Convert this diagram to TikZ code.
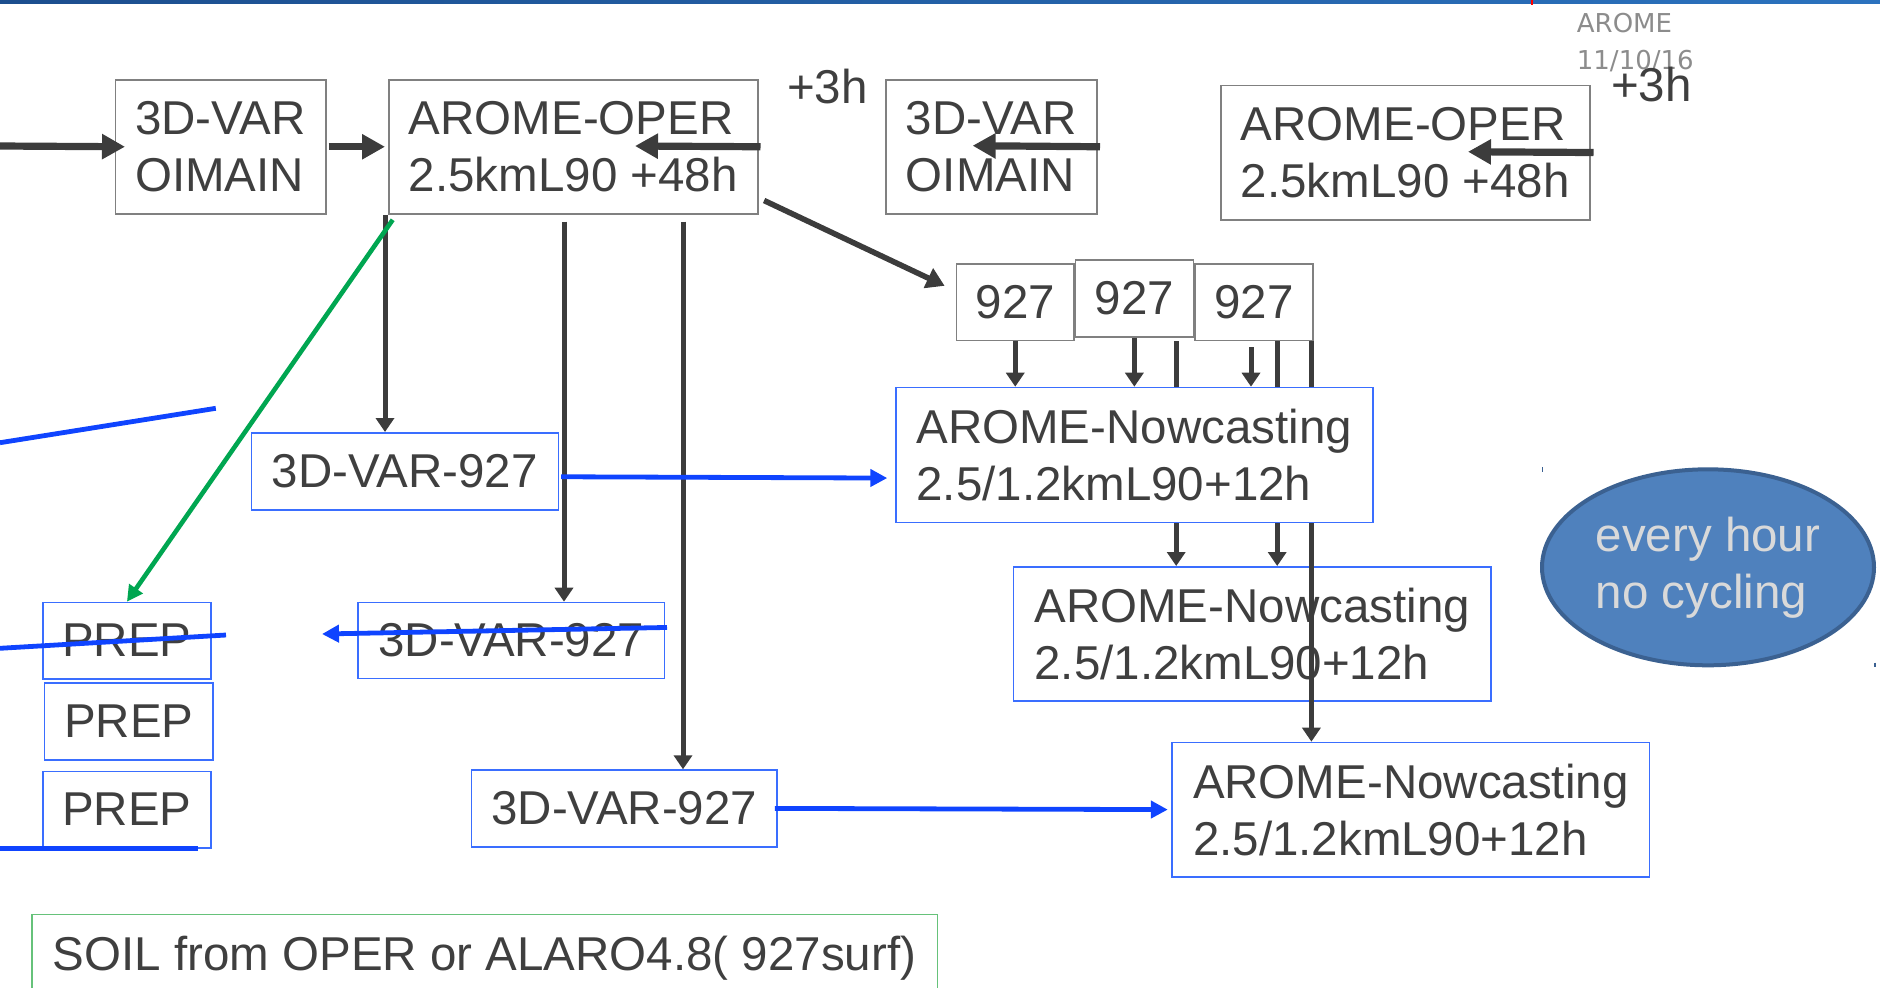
\documentclass[tikz,border=0pt]{standalone}
\usepackage{fontspec}
\setmainfont{Liberation Sans}
\newfontfamily\dejavu{DejaVu Sans}
\usetikzlibrary{arrows.meta,shapes.geometric}
\definecolor{txt}{HTML}{3F3F3F}
\definecolor{lgray}{HTML}{3C3C3C}
\definecolor{boxgray}{HTML}{808080}
\definecolor{boxblue}{HTML}{3A6EFF}
\definecolor{lnblue}{HTML}{0F44FF}
\definecolor{lngreen}{HTML}{00A651}
\definecolor{soilgreen}{HTML}{66C27A}
\definecolor{ellfill}{HTML}{4F81BD}
\definecolor{elldraw}{HTML}{3B6191}
\definecolor{elltxt}{HTML}{D9D9D9}
\definecolor{datetxt}{HTML}{8C8C8C}
\definecolor{barA}{HTML}{1C4E8E}
\definecolor{barB}{HTML}{2B72BE}
\begin{document}
\begin{tikzpicture}[x=0.5pt,y=-0.5pt,
  every node/.style={font=\fontsize{23.75pt}{28.5pt}\selectfont, text=txt},
  gbox/.style={draw=boxgray, line width=0.75pt, anchor=north west, inner sep=0pt, align=left},
  bbox/.style={draw=boxblue, line width=0.75pt, anchor=north west, inner sep=0pt, align=left},
  thk/.style={draw=lgray, line width=3.6pt, -{Triangle[length=11.5pt,width=12pt]}},
  diag/.style={draw=lgray, line width=2.8pt, -{Triangle[length=9pt,width=10.5pt]}},
  thn/.style={draw=lgray, line width=2.5pt, -{Triangle[length=7pt,width=9pt]}},
  thnline/.style={draw=lgray, line width=2.5pt},
  blu/.style={draw=lnblue, line width=2.4pt, -{Triangle[length=8.5pt,width=8.5pt]}},
  bluline/.style={draw=lnblue, line width=2.4pt},
  grn/.style={draw=lngreen, line width=2.3pt, -{Triangle[length=8pt,width=8pt]}},
  tick/.style={draw=elldraw, line width=0.6pt}
]
\useasboundingbox (0,0) rectangle (1880,987);
% top bar
\shade[left color=barA, right color=barB] (0,0) rectangle (1880,3.6);
\fill[red] (1531.3,0) rectangle (1533,4.5);

% header texts
\node[font=\dejavu\fontsize{13pt}{15pt}\selectfont, text=datetxt, anchor=base west, inner sep=0pt] (hdr1) at (1576.5,32.3) {AROME};
\node[font=\dejavu\fontsize{13pt}{15pt}\selectfont, text=datetxt, anchor=base west, inner sep=0pt] (hdr2) at (1576.5,69) {11/10/16};
\node[anchor=base west, inner sep=0pt] (p3a) at (786.6,103.3) {+3h};
\node[anchor=base west, inner sep=0pt] (p3b) at (1610.6,101.7) {+3h};

% top row boxes
\node[gbox, minimum width=105.25pt, minimum height=67pt] (opv1) at (114.5,79) {3D-VAR\\OIMAIN};
\node[gbox, minimum width=184.5pt, minimum height=67pt] (oper1) at (388,79) {AROME-OPER\\2.5kmL90 +48h};
\node[gbox, minimum width=105.5pt, minimum height=67pt] (opv2) at (885,79) {3D-VAR\\OIMAIN};
\node[gbox, minimum width=184.5pt, minimum height=67.25pt] (oper2) at (1220,84.5) {AROME-OPER\\2.5kmL90 +48h};

% 927 boxes
\node[gbox, minimum width=58.9pt, minimum height=38.05pt] (n1) at (955.6,263.4) {927};
\node[gbox, minimum width=58.9pt, minimum height=38.35pt] (n2) at (1074.7,259.3) {927};
\node[gbox, minimum width=58.9pt, minimum height=38.05pt] (n3) at (1194.4,263.4) {927};

% nowcasting boxes
\node[bbox, minimum width=238.5pt, minimum height=67.5pt] (now1) at (895,386.7) {AROME-Nowcasting\\2.5/1.2kmL90+12h};
\node[bbox, minimum width=238.95pt, minimum height=67.15pt] (now2) at (1012.5,566) {AROME-Nowcasting\\2.5/1.2kmL90+12h};
\node[bbox, minimum width=238.6pt, minimum height=67.15pt] (now3) at (1171.4,741.7) {AROME-Nowcasting\\2.5/1.2kmL90+12h};

% 3D-VAR-927 boxes
\node[bbox, minimum width=153.5pt, minimum height=38.5pt] (var1) at (250.6,432) {3D-VAR-927};
\node[bbox, minimum width=153.2pt, minimum height=38pt] (var2) at (357.3,601.7) {3D-VAR-927};
\node[bbox, minimum width=152.9pt, minimum height=38.35pt] (var3) at (470.6,769.3) {3D-VAR-927};

% PREP boxes
\node[bbox, minimum width=84.2pt, minimum height=38.15pt] (prep1) at (42,601.7) {PREP};
\node[bbox, minimum width=84.2pt, minimum height=38.35pt] (prep2) at (43.8,682.3) {PREP};
\node[bbox, minimum width=84.2pt, minimum height=38.15pt] (prep3) at (42,770.7) {PREP};

% SOIL box
\node[draw=soilgreen, line width=0.75pt, anchor=north west, inner sep=0pt, minimum width=452.65pt, minimum height=44.4pt] (soil) at (31.2,913.5) {SOIL from OPER or ALARO4.8( 927surf)};

% ellipse
\node[ellipse, fill=ellfill, draw=elldraw, line width=2pt, minimum width=166pt, minimum height=98pt, inner sep=0pt, align=left, text=elltxt] (cyc) at (1708,567.3) {every hour\\no cycling};
\draw[tick] (1542.3,467) -- (1542.3,471.5);
\draw[tick] (1875,662.5) -- (1875,667);

% guide coordinates
\coordinate (L0) at (0,146);
\coordinate (c1) at (635,146);
\coordinate (c2) at (972.6,145.7);
\coordinate (c3) at (1468,151.75);
\coordinate (g385) at (385,0);
\coordinate (g564) at (564,0);
\coordinate (g683) at (683,0);
\coordinate (g1176) at (1176.2,0);
\coordinate (g1251) at (1251,0);
\coordinate (g1277) at (1277.2,0);
\coordinate (g1311) at (1311.4,0);
\coordinate (t2) at (322,634);
\coordinate (b1a) at (0,442.7);
\coordinate (b1b) at (215.8,408.3);
\coordinate (b2a) at (0,648.3);
\coordinate (b2b) at (226,635);
\coordinate (b3a) at (0,848.3);
\coordinate (b3b) at (197.8,848.3);

% thick arrows
\draw[thk] (L0) -- ([xshift=5.25pt]opv1.west);
\draw[thk] ([xshift=1pt]opv1.east) -- ([xshift=-1.5pt]oper1.west);
\draw[thk] ([xshift=1pt]oper1.east) -- (c1);
\draw[thk] ([xshift=1.25pt]opv2.east) -- (c2);
\draw[thk] ([xshift=1.5pt]oper2.east) -- (c3);

% diagonal to 927
\draw[diag] ([xshift=2.8pt,yshift=7pt]oper1.south east) -- ([xshift=-5.5pt,yshift=8.2pt]n1.west);

% verticals from AROME-OPER
\draw[thn] (g385 |- oper1.south) -- (g385 |- var1.north);
\draw[thn, shorten <=3.5pt] (g564 |- oper1.south) -- (g564 |- var2.north);
\draw[thn, shorten <=3.5pt] (g683 |- oper1.south) -- (g683 |- var3.north);

% from 927 boxes
\draw[thn] (n1.south) -- (n1.south |- now1.north);
\draw[thn] (n2.south) -- (n2.south |- now1.north);
\draw[thn, shorten <=3pt] (g1251 |- n3.south) -- (g1251 |- now1.north);
\draw[thnline] (g1176 |- n3.south) -- (g1176 |- now1.north);
\draw[thnline] (g1277 |- n3.south) -- (g1277 |- now1.north);
\draw[thnline] (g1311 |- n3.south) -- (g1311 |- now1.north);
\draw[thn] (g1176 |- now1.south) -- (g1176 |- now2.north);
\draw[thn] (g1277 |- now1.south) -- (g1277 |- now2.north);
\draw[thn] (g1311 |- now1.south) -- (g1311 |- now3.north);

% blue connectors
\draw[blu] ([xshift=1pt,yshift=-2.75pt]var1.east) -- ([xshift=-3.85pt,yshift=-11.55pt]now1.west);
\draw[blu] ([xshift=0.9pt,yshift=6.5pt]var2.east) -- (t2);
\draw[blu, shorten <=-1.5pt, shorten >=1.8pt] (var3.east) -- (now3.west);
\draw[bluline] (b1a) -- (b1b);
\draw[bluline] (b2a) -- (b2b);
\draw[bluline] (b3a) -- (b3b);

% green arrow
\draw[grn] ([xshift=2.35pt,yshift=-2.65pt]oper1.south west) -- (prep1.north);
\end{tikzpicture}
\end{document}
